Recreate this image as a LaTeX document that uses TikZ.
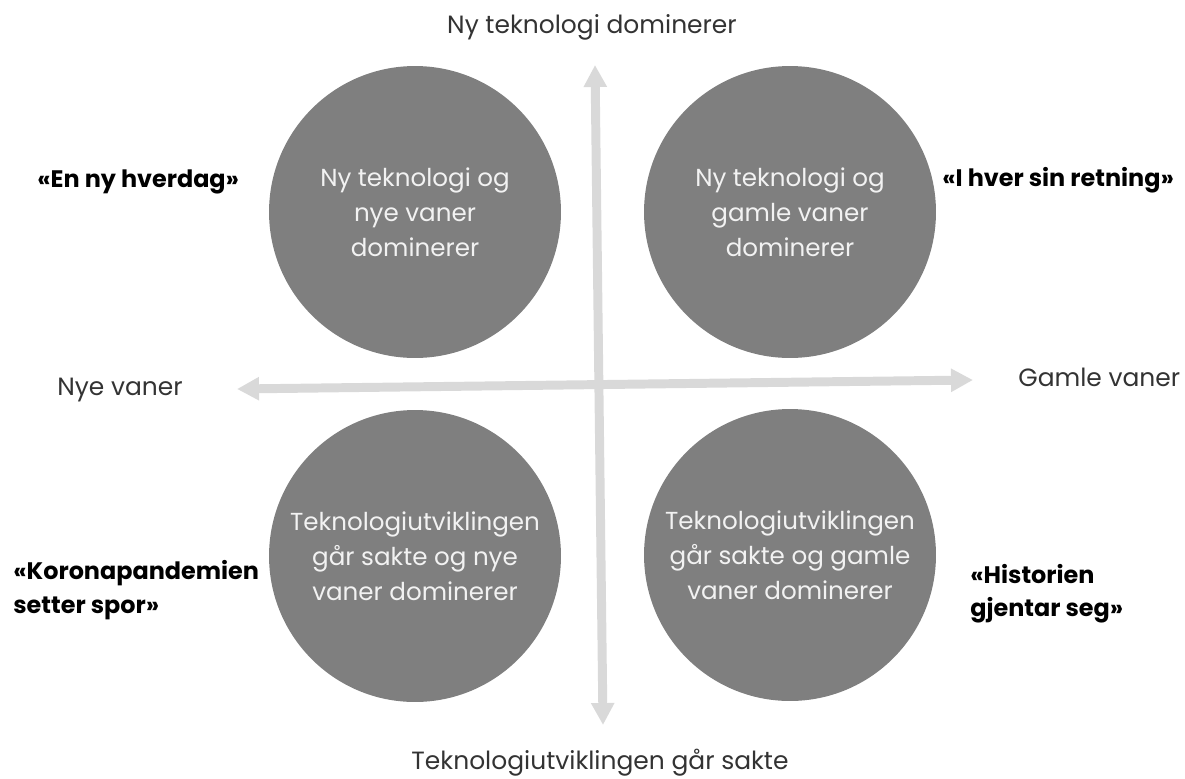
\documentclass[tikz,border=0pt]{standalone}
\usepackage{fontspec}
\setmainfont{Poppins}
\usepackage{tikz}
\usetikzlibrary{arrows.meta}
\usepackage{tkz-euclide}
\definecolor{aksegraa}{HTML}{D9D9D9}
\definecolor{sirkelgraa}{HTML}{7F7F7F}
\definecolor{lysgraa}{HTML}{F2F2F2}
\definecolor{morkgraa}{HTML}{333333}
\tikzset{
	akse/.style={draw=aksegraa, line width=5.1pt,
		{Triangle[length=12.5pt,width=12.5pt]}-{Triangle[length=12.5pt,width=12.5pt]}},
	scenario/.style={circle, fill=sirkelgraa, minimum size=5.84cm, inner sep=0pt,
		text=lysgraa, align=center, font=\fontsize{14}{19.9}\selectfont},
	aksetekst/.style={inner sep=0pt, text=morkgraa, font=\fontsize{14.2}{19.9}\selectfont},
	navn/.style={inner sep=0pt, align=left, text=black, font=\bfseries\fontsize{13.6}{19}\selectfont}
}

\begin{document}
\begin{tikzpicture}[x=0.02cm,y=-0.02cm]
	\useasboundingbox (0,0) rectangle (1185,778);
	\tkzDefPoints{237/389/V,973/380/H,595/65/T,603/725/B}
	\tkzDefPoints{415/212/O_1,790/212/O_2,415/556/O_3,790/555/O_4}

	\draw[akse] (V) -- (H);
	\draw[akse] (T) -- (B);

	\node[scenario] (nyny) at (O_1) {Ny teknologi og\\nye vaner\\dominerer};
	\node[scenario] (nygamle) at (O_2) {Ny teknologi og\\gamle vaner\\dominerer};
	\node[scenario] (saktenye) at (O_3) {Teknologiutviklingen\\går sakte og nye\\vaner dominerer};
	\node[scenario] (saktegamle) at (O_4) {Teknologiutviklingen\\går sakte og gamle\\vaner dominerer};

	\node[aksetekst] (topp) at (592,27) {Ny teknologi dominerer};
	\node[aksetekst] (bunn) at (600,763) {Teknologiutviklingen går sakte};
	\node[aksetekst, anchor=west] (nye) at (57,390) {Nye vaner};
	\node[aksetekst, anchor=west] (gamle) at (1018,377) {Gamle vaner};

	\node[navn, anchor=west] (hverdag) at (37,182) {«En ny hverdag»};
	\node[navn, anchor=west] (retning) at (942,180) {«I hver sin retning»};
	\node[navn, anchor=west] (korona) at (13,590) {«Koronapandemien\\setter spor»};
	\node[navn, anchor=west] (historien) at (970,594) {«Historien\\gjentar seg»};
\end{tikzpicture}
\end{document}
